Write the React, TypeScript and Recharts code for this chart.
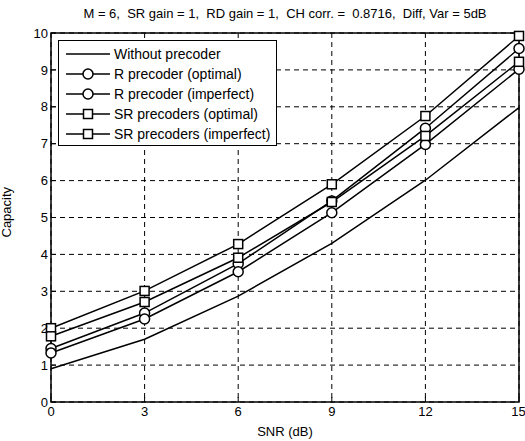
import { LineChart, Line, XAxis, YAxis, CartesianGrid, ReferenceArea } from "recharts";

const snr = [0, 3, 6, 9, 12, 15];
const withoutPrecoder = [0.9, 1.7, 2.87, 4.3, 6.01, 7.98];
const rOptimal = [1.45, 2.41, 3.75, 5.45, 7.42, 9.58];
const rImperfect = [1.33, 2.25, 3.53, 5.13, 6.98, 9.02];
const srOptimal = [2.0, 3.01, 4.28, 5.9, 7.75, 9.92];
const srImperfect = [1.78, 2.71, 3.91, 5.42, 7.21, 9.22];

const xTicks = [0, 3, 6, 9, 12, 15];
const yTicks = [0, 1, 2, 3, 4, 5, 6, 7, 8, 9, 10];

const series = [
  { key: "without", name: "Without precoder", marker: "none" },
  { key: "rOpt", name: "R precoder (optimal)", marker: "circle" },
  { key: "rImp", name: "R precoder (imperfect)", marker: "circle" },
  { key: "srOpt", name: "SR precoders (optimal)", marker: "square" },
  { key: "srImp", name: "SR precoders (imperfect)", marker: "square" },
];

const data = snr.map((x, i) => ({
  snr: x,
  without: withoutPrecoder[i],
  rOpt: rOptimal[i],
  rImp: rImperfect[i],
  srOpt: srOptimal[i],
  srImp: srImperfect[i],
}));

const font = "'Liberation Sans', Arial, Helvetica, sans-serif";
const tickStyle = { fill: "#000", fontSize: 13, fontFamily: font };
const noLabel = () => <g />;

function Marker({ cx, cy, type }: { cx: number; cy: number; type: string }) {
  if (type === "circle") {
    return <circle cx={cx} cy={cy} r={5} fill="#fff" stroke="#000" strokeWidth={1.5} />;
  }
  if (type === "square") {
    return <rect x={cx - 4.5} y={cy - 4.5} width={9} height={9} fill="#fff" stroke="#000" strokeWidth={1.5} />;
  }
  return null;
}

function LegendBox() {
  return (
    <div
      style={{
        position: "absolute",
        left: 58,
        top: 40,
        border: "1.5px solid #000",
        background: "#fff",
        width: 219,
        height: 106,
        boxSizing: "border-box",
        paddingTop: 3,
        fontFamily: font,
        fontSize: 14,
      }}
    >
      {series.map((s) => (
        <div key={s.key} style={{ display: "flex", alignItems: "center", height: 20 }}>
          <svg width={55} height={20} style={{ flexShrink: 0 }}>
            <line x1={7} y1={10} x2={51} y2={10} stroke="#000" strokeWidth={1.5} />
            <Marker cx={29} cy={10} type={s.marker} />
          </svg>
          <span>{s.name}</span>
        </div>
      ))}
    </div>
  );
}

export default function App() {
  return (
    <div style={{ position: "absolute", left: 0, top: 0, width: 525, height: 441, background: "#fff" }}>
      <div
        style={{
          position: "absolute",
          left: 51,
          width: 468,
          top: 6,
          textAlign: "center",
          fontFamily: font,
          fontSize: 13,
          whiteSpace: "pre",
        }}
      >
        {"M = 6,  SR gain = 1,  RD gain = 1,  CH corr. =  0.8716,  Diff, Var = 5dB"}
      </div>
      <LineChart width={525} height={441} data={data} margin={{ top: 33, right: 6, bottom: 0, left: 0 }}>
        <CartesianGrid stroke="#000" strokeDasharray="5 4" strokeWidth={1} />
        <XAxis
          dataKey="snr"
          type="number"
          domain={[0, 15]}
          ticks={xTicks}
          height={39}
          tickSize={-5}
          tickMargin={10}
          axisLine={false}
          tickLine={{ stroke: "#000", strokeWidth: 1 }}
          tick={tickStyle}
          label={{ value: "SNR (dB)", position: "insideBottom", offset: 5, fill: "#000", fontSize: 13, fontFamily: font }}
        />
        <XAxis
          xAxisId="top"
          orientation="top"
          dataKey="snr"
          type="number"
          domain={[0, 15]}
          ticks={xTicks}
          height={0}
          tickSize={-5}
          axisLine={false}
          tickLine={{ stroke: "#000", strokeWidth: 1 }}
          tick={noLabel}
        />
        <YAxis
          type="number"
          domain={[0, 10]}
          ticks={yTicks}
          width={51}
          tickSize={-5}
          tickMargin={8}
          axisLine={false}
          tickLine={{ stroke: "#000", strokeWidth: 1 }}
          tick={tickStyle}
          label={{ value: "Capacity", angle: -90, position: "insideLeft", offset: 6, dy: 20, fill: "#000", fontSize: 13, fontFamily: font }}
        />
        <YAxis
          yAxisId="right"
          orientation="right"
          type="number"
          domain={[0, 10]}
          ticks={yTicks}
          width={0}
          tickSize={-5}
          axisLine={false}
          tickLine={{ stroke: "#000", strokeWidth: 1 }}
          tick={noLabel}
        />
        <ReferenceArea x1={0} x2={15} y1={0} y2={10} fill="none" stroke="#000" strokeWidth={1.5} fillOpacity={0} />
        {series.map((s) => (
          <Line
            key={s.key}
            dataKey={s.key}
            name={s.name}
            type="linear"
            stroke="#000"
            strokeWidth={1.5}
            isAnimationActive={false}
            dot={(p: any) => <Marker key={`${s.key}-${p.index}`} cx={p.cx} cy={p.cy} type={s.marker} />}
            activeDot={false}
          />
        ))}
      </LineChart>
      <LegendBox />
    </div>
  );
}
